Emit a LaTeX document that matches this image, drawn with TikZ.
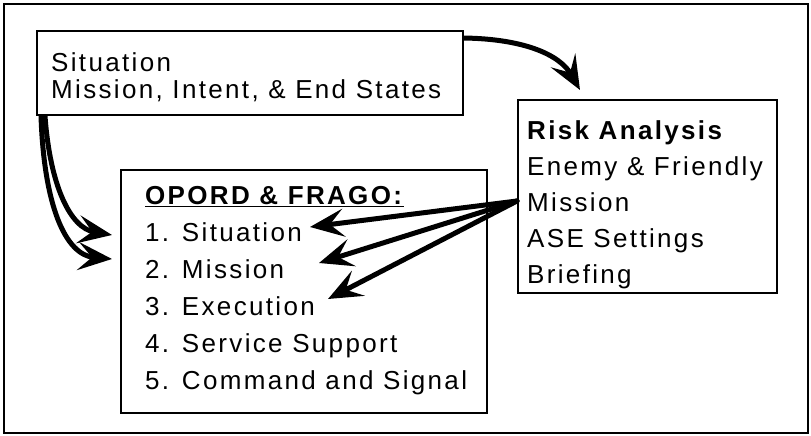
\documentclass[tikz,border=0pt]{standalone}
\usepackage{fontspec}
\setmainfont{Liberation Sans}[LetterSpace=9]
\usepackage{tikz}
\usetikzlibrary{arrows.meta, positioning}

\begin{document}
\begin{tikzpicture}[
  x=1pt, y=-1pt,
  every node/.style={font=\fontsize{26}{37}\selectfont},
  box/.style={rectangle, draw, line width=2pt, inner sep=0pt},
  txt/.style={anchor=north west, inner sep=0pt, align=left},
  arrow/.style={-{Stealth[length=34pt, width=28pt, inset=14pt]}, line width=5pt},
  frame/.style={draw, line width=2.5pt}
]
\useasboundingbox (0,0) rectangle (811,436);

% Outer frame
\draw[frame] (4,4) rectangle (808,433);

% Boxes
\node[box, minimum width=426pt, minimum height=84pt] (sitBox) at (250,73) {};
\node[box, minimum width=366pt, minimum height=243pt] (opordBox) at (304,291.5) {};
\node[box, minimum width=259pt, minimum height=193pt] (riskBox) at (647.5,196.5) {};

% Box texts
\node[txt, font=\fontsize{26}{27}\selectfont] (sitText) at (51,52)
  {Situation\\Mission, Intent, \& End States};
\node[txt] (opordText) at (145,186)
  {\underline{\textbf{OPORD \& FRAGO:}}\\1. Situation\\2. Mission\\3. Execution\\4. Service Support\\5. Command and Signal};
\node[txt, font=\fontsize{26}{36}\selectfont] (riskText) at (527,120)
  {\textbf{Risk Analysis}\\Enemy \& Friendly\\Mission\\ASE Settings\\Briefing};

% Arrow ends
\coordinate (riskDot) at ([yshift=-4.5pt]riskBox.west);
\coordinate (tipSit) at (310,227);
\coordinate (tipMis) at (319,263);
\coordinate (tipExe) at (328,299);
\coordinate (tipRisk) at (580,90);
\coordinate (tipLeftA) at (112,235);
\coordinate (tipLeftB) at (112,259);

% Situation box to risk analysis
\draw[arrow] ([yshift=-8pt]sitBox.north east) .. controls (525,39) and (560,55) .. (tipRisk);

% Situation box to OPORD
\draw[arrow] ([xshift=9pt]sitBox.south west) .. controls (50,185) and (70,228) .. (tipLeftA);
\draw[arrow] ([xshift=5pt]sitBox.south west) .. controls (44,205) and (65,255) .. (tipLeftB);

% Risk analysis to OPORD paragraphs
\draw[arrow, line cap=round] (riskDot) -- (tipSit);
\draw[arrow, line cap=round] (riskDot) -- (tipMis);
\draw[arrow, line cap=round] (riskDot) -- (tipExe);

\end{tikzpicture}
\end{document}
